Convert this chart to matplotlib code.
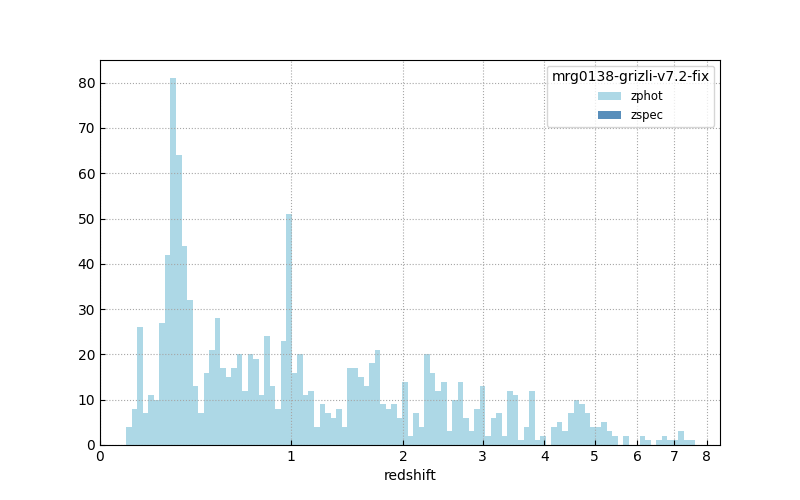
import numpy as np
from matplotlib import pyplot as plt

# counts per bin, bins uniform in ln(1+z) starting at z=0.1, width 0.02
zphot = [4, 8, 26, 7, 11, 10, 27, 42, 81, 64,
         44, 32, 13, 7, 16, 21, 28, 17, 15, 17,
         20, 12, 20, 19, 11, 24, 13, 8, 23, 51,
         16, 20, 11, 12, 4, 9, 7, 6, 8, 4,
         17, 17, 15, 13, 18, 21, 9, 8, 9, 6,
         14, 2, 7, 4, 20, 16, 12, 14, 3, 10,
         14, 6, 3, 8, 13, 2, 6, 7, 2, 12,
         11, 1, 4, 12, 1, 2, 0, 4, 5, 3,
         7, 10, 9, 7, 4, 4, 5, 3, 2, 0,
         2, 0, 0, 2, 1, 0, 1, 2, 1, 1,
         3, 1, 1]
zspec = [0] * len(zphot)
zmin = 0.1
dlog = 0.02
ticks = [0, 1, 2, 3, 4, 5, 6, 7, 8]

edges = np.exp(np.log(1 + zmin) + dlog * np.arange(len(zphot) + 1)) - 1

fig, ax = plt.subplots(figsize=(8, 5), dpi=100)
ax.set_xscale('function', functions=(lambda z: np.log10(1 + np.clip(z, -0.999, None)),
                                     lambda y: 10 ** y - 1))
ax.stairs(zphot, edges, fill=True, color='lightblue', label='zphot')
ax.stairs(zspec, edges, fill=True, color='steelblue', alpha=0.9, label='zspec')

ax.set_xlim(0, 8.45)
ax.set_ylim(0, 85)
ax.set_xticks(ticks)
ax.set_xticklabels([str(t) for t in ticks])
ax.xaxis.set_minor_locator(plt.NullLocator())
ax.set_yticks(np.arange(0, 81, 10))
ax.tick_params(direction='in')
ax.grid(linestyle=':', color='0.65')
ax.set_xlabel('redshift')
ax.legend(title='mrg0138-grizli-v7.2-fix', loc='upper right', fontsize='small')

plt.savefig('out.png')
